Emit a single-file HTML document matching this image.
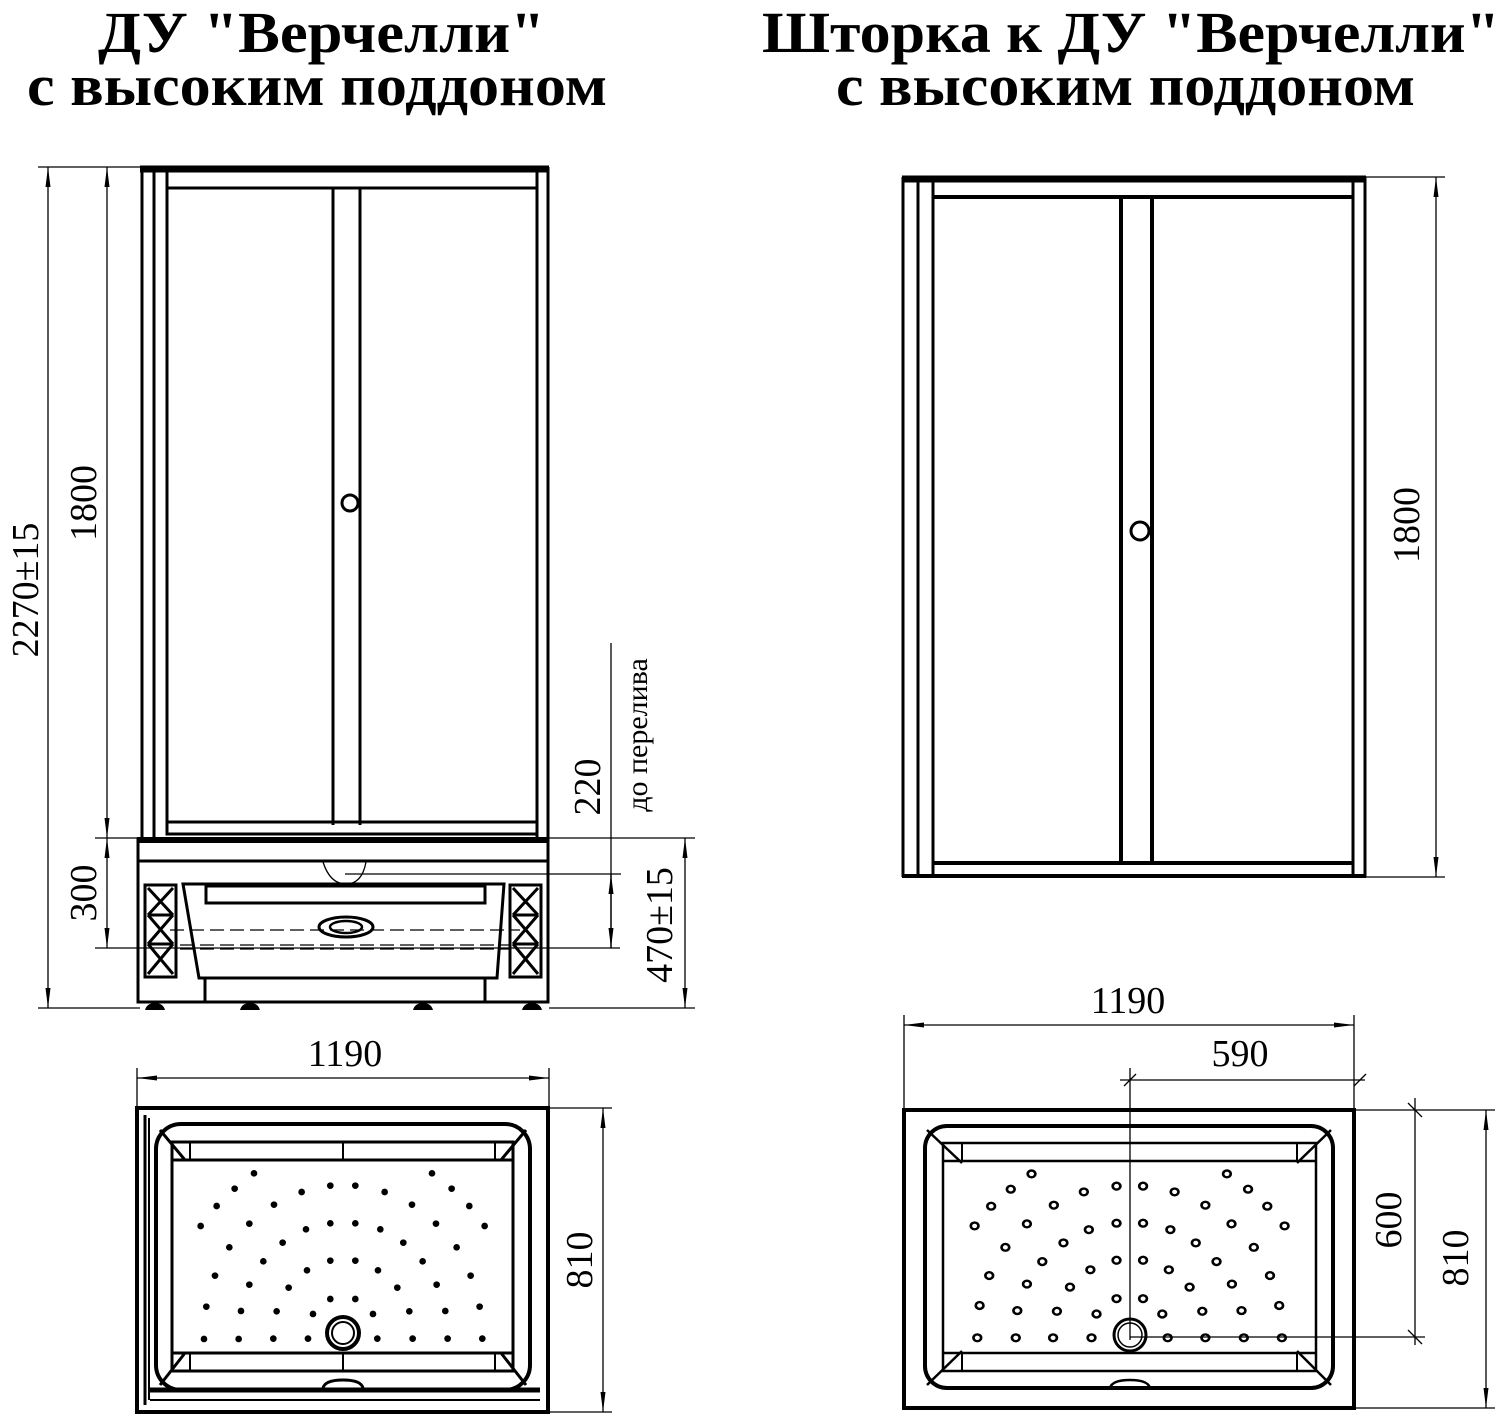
<!DOCTYPE html>
<html><head><meta charset="utf-8"><style>
html,body{margin:0;padding:0;background:#fff;}
svg{display:block;}
text{font-family:"Liberation Serif",serif;fill:#000;}
</style></head><body>
<svg width="1509" height="1414" viewBox="0 0 1509 1414" xmlns="http://www.w3.org/2000/svg">
<defs>
<marker id="a" viewBox="0 0 20 6" refX="20" refY="3" markerWidth="20" markerHeight="6" markerUnits="userSpaceOnUse" orient="auto-start-reverse"><path d="M20,3 L0,0.5 L0,5.5 Z" fill="#000"/></marker>
</defs>
<!-- titles -->
<g font-weight="bold" font-size="58">
<text x="98" y="52" textLength="447" lengthAdjust="spacingAndGlyphs">ДУ "Верчелли"</text>
<text x="27" y="105" textLength="580" lengthAdjust="spacingAndGlyphs">с высоким поддоном</text>
<text x="762" y="52" textLength="738" lengthAdjust="spacingAndGlyphs">Шторка к ДУ "Верчелли"</text>
<text x="836" y="105" textLength="579" lengthAdjust="spacingAndGlyphs">с высоким поддоном</text>
</g>

<!-- LEFT FRONT VIEW -->
<g fill="none" stroke="#000">
<line x1="140" y1="169" x2="549" y2="169" stroke-width="7"/>
<line x1="142" y1="167" x2="142" y2="838" stroke-width="3"/>
<line x1="154" y1="167" x2="154" y2="838" stroke-width="3"/>
<line x1="167" y1="172" x2="167" y2="835" stroke-width="3"/>
<line x1="537" y1="167" x2="537" y2="838" stroke-width="3"/>
<line x1="548" y1="167" x2="548" y2="838" stroke-width="3"/>
<line x1="167" y1="188" x2="537" y2="188" stroke-width="3"/>
<line x1="333" y1="188" x2="333" y2="825" stroke-width="3"/>
<line x1="360" y1="188" x2="360" y2="825" stroke-width="3"/>
<rect x="167" y="822" width="370" height="12" stroke-width="3"/>
<circle cx="350" cy="503" r="8" stroke-width="3"/>
<!-- base -->
<line x1="137" y1="840" x2="549" y2="840" stroke-width="6"/>
<rect x="138" y="840" width="410" height="162" stroke-width="3"/>
<line x1="138" y1="861" x2="548" y2="861" stroke-width="3"/>
<path d="M183,884 L504,884 L497,978 L199,978 Z" stroke-width="3"/>
<rect x="206" y="886" width="279" height="17" stroke-width="3"/>
<line x1="205" y1="978" x2="205" y2="1002" stroke-width="3"/>
<line x1="485" y1="978" x2="485" y2="1002" stroke-width="3"/>
<ellipse cx="346" cy="927" rx="27" ry="10" stroke-width="3"/>
<ellipse cx="346" cy="927" rx="16" ry="6" stroke-width="2.5"/>
<path d="M323,862 Q330,884 346,884 Q362,884 366,862" stroke-width="1.3"/>
<line x1="170" y1="930" x2="520" y2="930" stroke-width="1.3" stroke-dasharray="14,6"/>
<line x1="180" y1="945" x2="510" y2="945" stroke-width="1.3" stroke-dasharray="14,6"/>
<line x1="180" y1="949" x2="510" y2="949" stroke-width="1.3" stroke-dasharray="14,6"/>
<rect x="145" y="885" width="31" height="92" stroke-width="3"/>
<path d="M148,888 L173,915 M173,888 L148,915 M148,915 L173,944 M173,915 L148,944 M148,944 L173,974 M173,944 L148,974 M148,915 L173,915 M148,944 L173,944" stroke-width="3"/>
<rect x="510" y="885" width="31" height="92" stroke-width="3"/>
<path d="M513,888 L538,915 M538,888 L513,915 M513,915 L538,944 M538,915 L513,944 M513,944 L538,974 M538,944 L513,974 M513,915 L538,915 M513,944 L538,944" stroke-width="3"/>
</g>
<g fill="#000">
<path d="M145,1010 Q147,1003 155,1003 Q163,1003 165,1010 Z"/>
<path d="M240,1010 Q242,1003 250,1003 Q258,1003 260,1010 Z"/>
<path d="M413,1010 Q415,1003 423,1003 Q431,1003 433,1010 Z"/>
<path d="M522,1010 Q524,1003 532,1003 Q540,1003 542,1010 Z"/>
</g>
<!-- left dimensions -->
<g stroke="#000" stroke-width="1.3" fill="none">
<line x1="38" y1="167" x2="140" y2="167"/>
<line x1="38" y1="1008" x2="140" y2="1008"/>
<line x1="95" y1="838" x2="695" y2="838"/>
<line x1="95" y1="948" x2="620" y2="948"/>
<line x1="549" y1="1008" x2="695" y2="1008"/>
<line x1="345" y1="874" x2="621" y2="874"/>
<line x1="48" y1="167" x2="48" y2="1008" marker-start="url(#a)" marker-end="url(#a)"/>
<line x1="107" y1="167" x2="107" y2="838" marker-start="url(#a)" marker-end="url(#a)"/>
<line x1="107" y1="838" x2="107" y2="948" marker-start="url(#a)" marker-end="url(#a)"/>
<line x1="611" y1="643" x2="611" y2="948"/>
<line x1="611" y1="874" x2="611" y2="948" marker-start="url(#a)" marker-end="url(#a)"/>
<line x1="685" y1="838" x2="685" y2="1008" marker-start="url(#a)" marker-end="url(#a)"/>
</g>
<g font-size="38">
<text transform="translate(38,590) rotate(-90)" text-anchor="middle">2270±15</text>
<text transform="translate(96,503) rotate(-90)" text-anchor="middle">1800</text>
<text transform="translate(96,893) rotate(-90)" text-anchor="middle">300</text>
<text transform="translate(600,787) rotate(-90)" text-anchor="middle">220</text>
<text transform="translate(672,925) rotate(-90)" text-anchor="middle">470±15</text>
<text transform="translate(647,735) rotate(-90)" text-anchor="middle" font-size="30">до перелива</text>
</g>

<!-- LEFT TOP VIEW -->
<g fill="none" stroke="#000">
<rect x="137" y="1108" width="411" height="304" stroke-width="4"/>
<line x1="145" y1="1115" x2="145" y2="1405" stroke-width="3"/>
<line x1="149" y1="1118" x2="149" y2="1400" stroke-width="2"/>
<rect x="156" y="1124" width="374" height="266" rx="25" stroke-width="4"/>
<rect x="172" y="1142" width="341" height="229" stroke-width="3"/>
<line x1="172" y1="1160" x2="513" y2="1160" stroke-width="3"/>
<line x1="172" y1="1353" x2="513" y2="1353" stroke-width="3"/>
<line x1="190" y1="1142" x2="190" y2="1160" stroke-width="2"/>
<line x1="495" y1="1142" x2="495" y2="1160" stroke-width="2"/>
<line x1="190" y1="1353" x2="190" y2="1371" stroke-width="2"/>
<line x1="495" y1="1353" x2="495" y2="1371" stroke-width="2"/>
<line x1="343" y1="1142" x2="343" y2="1160" stroke-width="2"/>
<line x1="343" y1="1353" x2="343" y2="1371" stroke-width="2"/>
<path d="M160,1130 L185,1160 M526,1130 L501,1160 M160,1385 L185,1353 M526,1385 L501,1353" stroke-width="3"/>
<line x1="150" y1="1390" x2="540" y2="1390" stroke-width="5"/>
<line x1="150" y1="1400" x2="540" y2="1400" stroke-width="2"/>
<path d="M323,1388 Q325,1380 343,1380 Q361,1380 363,1388" stroke-width="3"/>
<circle cx="343" cy="1333" r="16" stroke-width="4"/>
<circle cx="343" cy="1333" r="11" stroke-width="2"/>
</g>
<g transform="translate(130,1100) scale(0.3333)" fill="#000">
<circle cx="372" cy="220" r="10"/><circle cx="314" cy="266" r="10"/><circle cx="515" cy="276" r="10"/><circle cx="601" cy="257" r="10"/><circle cx="676" cy="257" r="10"/><circle cx="764" cy="276" r="10"/><circle cx="906" cy="220" r="10"/><circle cx="965" cy="266" r="10"/>
<circle cx="260" cy="318" r="10"/><circle cx="432" cy="314" r="10"/><circle cx="846" cy="314" r="10"/><circle cx="1018" cy="318" r="10"/>
<circle cx="212" cy="378" r="10"/><circle cx="358" cy="371" r="10"/><circle cx="528" cy="388" r="10"/><circle cx="601" cy="370" r="10"/><circle cx="676" cy="370" r="10"/><circle cx="751" cy="388" r="10"/><circle cx="918" cy="371" r="10"/><circle cx="1064" cy="378" r="10"/>
<circle cx="298" cy="442" r="10"/><circle cx="458" cy="428" r="10"/><circle cx="820" cy="428" r="10"/><circle cx="980" cy="442" r="10"/>
<circle cx="400" cy="484" r="10"/><circle cx="601" cy="482" r="10"/><circle cx="676" cy="482" r="10"/><circle cx="531" cy="511" r="10"/><circle cx="744" cy="511" r="10"/><circle cx="878" cy="484" r="10"/>
<circle cx="255" cy="527" r="10"/><circle cx="358" cy="554" r="10"/><circle cx="476" cy="563" r="10"/><circle cx="802" cy="563" r="10"/><circle cx="920" cy="554" r="10"/><circle cx="1022" cy="527" r="10"/>
<circle cx="229" cy="620" r="10"/><circle cx="333" cy="633" r="10"/><circle cx="440" cy="634" r="10"/><circle cx="549" cy="642" r="10"/><circle cx="601" cy="597" r="10"/><circle cx="676" cy="597" r="10"/><circle cx="729" cy="642" r="10"/><circle cx="838" cy="634" r="10"/><circle cx="946" cy="633" r="10"/><circle cx="1049" cy="620" r="10"/>
<circle cx="222" cy="717" r="10"/><circle cx="326" cy="717" r="10"/><circle cx="430" cy="716" r="10"/><circle cx="534" cy="716" r="10"/><circle cx="742" cy="716" r="10"/><circle cx="848" cy="716" r="10"/><circle cx="953" cy="716" r="10"/><circle cx="1057" cy="716" r="10"/>
</g>
<g stroke="#000" stroke-width="1.3" fill="none">
<line x1="137" y1="1068" x2="137" y2="1106"/>
<line x1="549" y1="1068" x2="549" y2="1106"/>
<line x1="137" y1="1078" x2="549" y2="1078" marker-start="url(#a)" marker-end="url(#a)"/>
<line x1="550" y1="1108" x2="612" y2="1108"/>
<line x1="550" y1="1412" x2="612" y2="1412"/>
<line x1="603" y1="1108" x2="603" y2="1412" marker-start="url(#a)" marker-end="url(#a)"/>
</g>
<g font-size="38">
<text x="345" y="1066" text-anchor="middle">1190</text>
<text transform="translate(592,1260) rotate(-90)" text-anchor="middle">810</text>
</g>

<!-- RIGHT FRONT VIEW -->
<g fill="none" stroke="#000">
<line x1="902" y1="179" x2="1366" y2="179" stroke-width="7"/>
<line x1="903" y1="177" x2="903" y2="877" stroke-width="3"/>
<line x1="918" y1="177" x2="918" y2="877" stroke-width="3"/>
<line x1="933" y1="182" x2="933" y2="877" stroke-width="3"/>
<line x1="1353" y1="177" x2="1353" y2="877" stroke-width="3"/>
<line x1="1365" y1="177" x2="1365" y2="877" stroke-width="3"/>
<line x1="933" y1="197" x2="1353" y2="197" stroke-width="4"/>
<line x1="1121" y1="197" x2="1121" y2="863" stroke-width="4"/>
<line x1="1152" y1="197" x2="1152" y2="863" stroke-width="4"/>
<line x1="933" y1="863" x2="1353" y2="863" stroke-width="4"/>
<line x1="902" y1="876" x2="1366" y2="876" stroke-width="4"/>
<circle cx="1140" cy="531" r="9" stroke-width="3"/>
</g>
<g stroke="#000" stroke-width="1.3" fill="none">
<line x1="1366" y1="177" x2="1445" y2="177"/>
<line x1="1366" y1="877" x2="1445" y2="877"/>
<line x1="1436" y1="177" x2="1436" y2="877" marker-start="url(#a)" marker-end="url(#a)"/>
</g>
<text transform="translate(1419,525) rotate(-90)" text-anchor="middle" font-size="38">1800</text>

<!-- RIGHT TOP VIEW -->
<g fill="none" stroke="#000">
<rect x="904" y="1110" width="450" height="298" stroke-width="4"/>
<rect x="925" y="1126" width="408" height="262" rx="22" stroke-width="4"/>
<rect x="943" y="1143" width="373" height="228" stroke-width="2.5"/>
<line x1="943" y1="1161" x2="1316" y2="1161" stroke-width="2.5"/>
<line x1="943" y1="1353" x2="1316" y2="1353" stroke-width="2.5"/>
<line x1="962" y1="1143" x2="962" y2="1161" stroke-width="2"/>
<line x1="1297" y1="1143" x2="1297" y2="1161" stroke-width="2"/>
<line x1="962" y1="1353" x2="962" y2="1371" stroke-width="2"/>
<line x1="1297" y1="1353" x2="1297" y2="1371" stroke-width="2"/>
<path d="M927,1130 L962,1163 M1331,1130 L1297,1163 M927,1385 L962,1351 M1331,1385 L1297,1351" stroke-width="2.5"/>
<path d="M1110,1388 Q1112,1380 1130,1380 Q1148,1380 1150,1388" stroke-width="2.5"/>
<circle cx="1130" cy="1335" r="16" stroke-width="3"/>
<circle cx="1130" cy="1335" r="12" stroke-width="1.5"/>
</g>
<g transform="translate(895,1060) scale(0.3846,0.34)" fill="none" stroke="#000" stroke-width="7">
<circle cx="355" cy="335" r="10"/><circle cx="301" cy="380" r="10"/><circle cx="491" cy="388" r="10"/><circle cx="576" cy="371" r="10"/><circle cx="645" cy="371" r="10"/><circle cx="727" cy="388" r="10"/><circle cx="863" cy="335" r="10"/><circle cx="918" cy="380" r="10"/>
<circle cx="250" cy="430" r="10"/><circle cx="413" cy="427" r="10"/><circle cx="807" cy="427" r="10"/><circle cx="968" cy="430" r="10"/>
<circle cx="207" cy="488" r="10"/><circle cx="343" cy="482" r="10"/><circle cx="504" cy="499" r="10"/><circle cx="576" cy="480" r="10"/><circle cx="645" cy="480" r="10"/><circle cx="716" cy="499" r="10"/><circle cx="875" cy="482" r="10"/><circle cx="1013" cy="488" r="10"/>
<circle cx="287" cy="551" r="10"/><circle cx="438" cy="538" r="10"/><circle cx="782" cy="538" r="10"/><circle cx="933" cy="551" r="10"/>
<circle cx="383" cy="593" r="10"/><circle cx="508" cy="617" r="10"/><circle cx="576" cy="589" r="10"/><circle cx="645" cy="589" r="10"/><circle cx="712" cy="617" r="10"/><circle cx="836" cy="593" r="10"/>
<circle cx="245" cy="634" r="10"/><circle cx="343" cy="659" r="10"/><circle cx="455" cy="668" r="10"/><circle cx="766" cy="668" r="10"/><circle cx="876" cy="659" r="10"/><circle cx="975" cy="634" r="10"/>
<circle cx="220" cy="722" r="10"/><circle cx="318" cy="737" r="10"/><circle cx="421" cy="739" r="10"/><circle cx="524" cy="747" r="10"/><circle cx="576" cy="702" r="10"/><circle cx="645" cy="702" r="10"/><circle cx="695" cy="747" r="10"/><circle cx="799" cy="739" r="10"/><circle cx="901" cy="737" r="10"/><circle cx="999" cy="722" r="10"/>
<circle cx="214" cy="817" r="10"/><circle cx="314" cy="817" r="10"/><circle cx="411" cy="817" r="10"/><circle cx="511" cy="817" r="10"/><circle cx="709" cy="817" r="10"/><circle cx="807" cy="817" r="10"/><circle cx="907" cy="817" r="10"/><circle cx="1006" cy="817" r="10"/>
</g>
<g stroke="#000" stroke-width="1.3" fill="none">
<line x1="904" y1="1015" x2="904" y2="1108"/>
<line x1="1354" y1="1015" x2="1354" y2="1108"/>
<line x1="904" y1="1025" x2="1354" y2="1025" marker-start="url(#a)" marker-end="url(#a)"/>
<line x1="1130" y1="1068" x2="1130" y2="1340"/>
<line x1="1120" y1="1080" x2="1365" y2="1080"/>
<path d="M1124,1086 L1136,1074 M1354,1086 L1366,1074"/>
<line x1="1354" y1="1110" x2="1495" y2="1110"/>
<line x1="1354" y1="1408" x2="1495" y2="1408"/>
<line x1="1130" y1="1337" x2="1425" y2="1337"/>
<line x1="1415" y1="1098" x2="1415" y2="1345"/>
<path d="M1408,1103 L1422,1117 M1408,1330 L1422,1344"/>
<line x1="1486" y1="1110" x2="1486" y2="1408" marker-start="url(#a)" marker-end="url(#a)"/>
</g>
<g font-size="38">
<text x="1128" y="1013" text-anchor="middle">1190</text>
<text x="1240" y="1066" text-anchor="middle">590</text>
<text transform="translate(1401,1220) rotate(-90)" text-anchor="middle">600</text>
<text transform="translate(1468,1258) rotate(-90)" text-anchor="middle">810</text>
</g>
</svg>
</body></html>
